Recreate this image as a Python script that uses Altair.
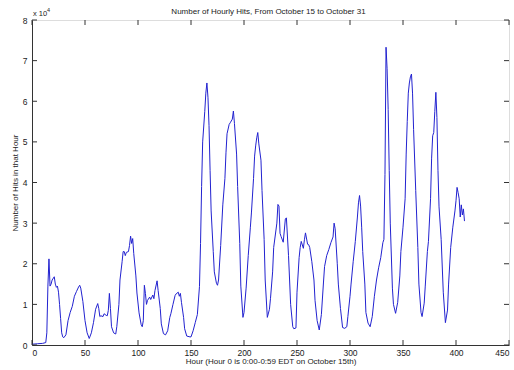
import altair as alt
import pandas as pd

hours = [0, 5, 10, 13, 14, 15, 16, 17, 18, 19, 21, 22, 23, 24, 25, 26, 27, 28, 29, 30,
         32, 34, 36, 38, 40, 42, 44, 45, 46, 48, 50, 52, 54, 56, 58, 60, 62, 63, 64, 65,
         67, 68, 70, 71, 72, 73, 74, 75, 77, 79, 80, 82, 83, 85, 86, 87, 88, 89, 91, 92,
         93, 94, 95, 96, 98, 99, 101, 103, 104, 105, 106, 107, 108, 109, 111, 112, 114, 115, 116, 118,
         119, 121, 122, 124, 126, 128, 130, 131, 133, 135, 136, 138, 139, 140, 141, 143, 144, 146, 149, 150,
         152, 154, 156, 158, 159, 160, 161, 163, 164, 165, 166, 167, 168, 169, 171, 172, 174, 175, 176, 178,
         180, 182, 183, 184, 186, 187, 189, 190, 191, 193, 194, 196, 197, 199, 200, 202, 204, 206, 207, 209,
         210, 211, 212, 213, 214, 216, 217, 219, 220, 222, 224, 225, 227, 228, 231, 232, 233, 234, 235, 237,
         239, 240, 242, 243, 244, 246, 247, 249, 250, 252, 253, 254, 256, 257, 258, 260, 261, 262, 264, 266,
         267, 269, 271, 273, 275, 276, 278, 280, 282, 284, 285, 286, 288, 289, 291, 293, 295, 297, 298, 300,
         301, 303, 305, 307, 308, 309, 310, 311, 312, 314, 315, 317, 319, 321, 323, 325, 327, 329, 331, 332,
         333, 334, 335, 336, 337, 338, 340, 341, 343, 345, 347, 348, 350, 352, 353, 354, 355, 356, 357, 358,
         359, 360, 362, 364, 365, 367, 368, 370, 371, 373, 374, 376, 377, 378, 379, 380, 381, 382, 383, 384,
         386, 388, 390, 392, 393, 395, 397, 399, 400, 401, 402, 403, 404, 405, 406, 407, 408]

hits_e4 = [0.02, 0.03, 0.04, 0.06, 0.3, 1.45, 2.12, 1.45, 1.5, 1.6, 1.68, 1.5, 1.42, 1.45, 1.3, 1.0, 0.65, 0.3, 0.2, 0.18,
           0.25, 0.6, 0.8, 0.95, 1.2, 1.32, 1.43, 1.47, 1.4, 1.07, 0.6, 0.3, 0.16, 0.3, 0.55, 0.88, 1.02, 0.9, 0.7, 0.72,
           0.7, 0.77, 0.73, 0.72, 0.85, 1.27, 0.9, 0.45, 0.3, 0.27, 0.45, 1.0, 1.6, 2.05, 2.3, 2.3, 2.2, 2.28, 2.3, 2.45,
           2.68, 2.5, 2.62, 2.25, 1.7, 1.28, 0.79, 0.5, 0.45, 0.6, 1.47, 1.27, 1.0, 1.1, 1.18, 1.12, 1.23, 1.14, 1.34, 1.58,
           1.34, 0.9, 0.52, 0.28, 0.25, 0.35, 0.68, 0.77, 1.0, 1.22, 1.26, 1.3, 1.2, 1.27, 1.05, 0.68, 0.4, 0.22, 0.2, 0.2,
           0.35, 0.55, 0.75, 1.44, 2.5, 3.9, 5.0, 5.75, 6.2, 6.45, 6.1, 5.4, 4.3, 3.3, 2.3, 1.8, 1.52, 1.47, 1.6, 2.45,
           3.45, 4.1, 4.73, 5.2, 5.43, 5.47, 5.56, 5.76, 5.45, 4.7, 3.9, 2.5, 1.45, 0.68, 0.8, 1.4, 2.2, 2.9, 3.25, 4.1,
           4.65, 4.9, 5.1, 5.23, 4.95, 4.55, 3.8, 2.6, 1.6, 0.68, 0.88, 1.15, 1.8, 2.4, 3.0, 3.46, 3.42, 2.75, 2.67, 2.53,
           3.1, 3.13, 2.2, 1.6, 1.0, 0.45, 0.4, 0.42, 1.3, 2.15, 2.4, 2.55, 2.38, 2.59, 2.76, 2.48, 2.47, 2.4, 2.05, 1.6,
           1.1, 0.6, 0.37, 0.75, 1.55, 1.93, 2.2, 2.35, 2.52, 2.66, 3.0, 2.86, 2.0, 1.5, 0.9, 0.43, 0.41, 0.45, 0.7, 1.2,
           1.5, 2.05, 2.55, 3.15, 3.5, 3.68, 3.42, 2.9, 2.3, 1.5, 0.8, 0.54, 0.45, 0.7, 1.2, 1.6, 1.9, 2.15, 2.52, 2.6,
           4.2, 7.33, 6.8, 5.8, 4.3, 3.0, 1.4, 1.0, 0.78, 1.05, 1.7, 2.3, 2.9, 3.6, 4.7, 5.5, 6.2, 6.45, 6.6, 6.67,
           6.2, 5.3, 3.8, 2.4, 1.5, 0.8, 0.7, 1.03, 1.45, 2.3, 2.55, 3.6, 4.6, 5.15, 5.23, 5.75, 6.22, 5.6, 4.3, 3.4,
           2.6, 1.3, 0.55, 0.86, 1.5, 2.4, 2.9, 3.3, 3.55, 3.88, 3.75, 3.6, 3.15, 3.45, 3.2, 3.35, 3.05]

x_ticks = [0, 50, 100, 150, 200, 250, 300, 350, 400, 450]
y_ticks = [0, 10000, 20000, 30000, 40000, 50000, 60000, 70000, 80000]

title_text = "Number of Hourly Hits, From October 15 to October 31"
x_title = "Hour (Hour 0 is 0:00-0:59 EDT on October 15th)"
y_title = "Number of Hits in that Hour"

W, H = 477, 325
FONT = "Liberation Sans"
AXC = "#333333"
TXT = "#222222"
LFS = 8.5
TFS = 8

df = pd.DataFrame({"hour": hours, "hits": [round(v * 10000) for v in hits_e4]})
xt = pd.DataFrame({"hour": x_ticks})
yt = pd.DataFrame({"hits": y_ticks})

xscale = alt.Scale(domain=[0, 450], nice=False, zero=False)
yscale = alt.Scale(domain=[0, 80000], nice=False)

xaxis = alt.Axis(values=x_ticks, title=x_title, ticks=False, grid=False,
                 domainColor=AXC, labelColor=TXT, labelFont=FONT, labelFontSize=LFS,
                 labelPadding=3, titleFont=FONT, titleFontSize=TFS, titleFontWeight="normal",
                 titleColor=TXT, titlePadding=1)
yaxis = alt.Axis(values=y_ticks, title=y_title, ticks=False, grid=False,
                 labelExpr="datum.value / 10000",
                 domainColor=AXC, labelColor=TXT, labelFont=FONT, labelFontSize=LFS,
                 labelPadding=5, titleFont=FONT, titleFontSize=TFS, titleFontWeight="normal",
                 titleColor=TXT, titlePadding=3)

line = alt.Chart(df).mark_line(color="#2222d0", strokeWidth=1, clip=True).encode(
    x=alt.X("hour:Q", scale=xscale, axis=xaxis),
    y=alt.Y("hits:Q", scale=yscale, axis=yaxis),
)

tick_len = 5
xb = alt.Chart(xt).mark_rule(color=AXC, strokeWidth=1).encode(
    x=alt.X("hour:Q", scale=xscale, axis=xaxis), y=alt.value(H), y2=alt.value(H - tick_len))
xtop = alt.Chart(xt).mark_rule(color=AXC, strokeWidth=1).encode(
    x=alt.X("hour:Q", scale=xscale, axis=xaxis), y=alt.value(0), y2=alt.value(tick_len))
yl = alt.Chart(yt).mark_rule(color=AXC, strokeWidth=1).encode(
    y=alt.Y("hits:Q", scale=yscale, axis=yaxis), x=alt.value(0), x2=alt.value(tick_len))
yr = alt.Chart(yt).mark_rule(color=AXC, strokeWidth=1).encode(
    y=alt.Y("hits:Q", scale=yscale, axis=yaxis), x=alt.value(W - tick_len), x2=alt.value(W))

mult = alt.Chart(pd.DataFrame({"s": ["x 10"]})).mark_text(
    font=FONT, fontSize=7.5, color=TXT, align="left", baseline="alphabetic").encode(
    text="s:N", x=alt.value(1), y=alt.value(-4))
sup = alt.Chart(pd.DataFrame({"s": ["4"]})).mark_text(
    font=FONT, fontSize=5.5, color=TXT, align="left", baseline="alphabetic").encode(
    text="s:N", x=alt.value(15), y=alt.value(-8))
ttl = alt.Chart(pd.DataFrame({"s": [title_text]})).mark_text(
    font=FONT, fontSize=TFS, color=TXT, align="center", baseline="alphabetic").encode(
    text="s:N", x=alt.value(W / 2 - 2), y=alt.value(-6))

chart = alt.layer(line, xb, xtop, yl, yr, mult, sup, ttl).properties(
    width=W, height=H,
    autosize=alt.AutoSizeParams(type="none"),
    padding={"left": 32, "top": 20, "right": 5, "bottom": 25},
).configure_view(stroke=AXC, strokeWidth=1).configure(background="white")

chart.save("out.html", embed_options={"renderer": "svg", "actions": False})
